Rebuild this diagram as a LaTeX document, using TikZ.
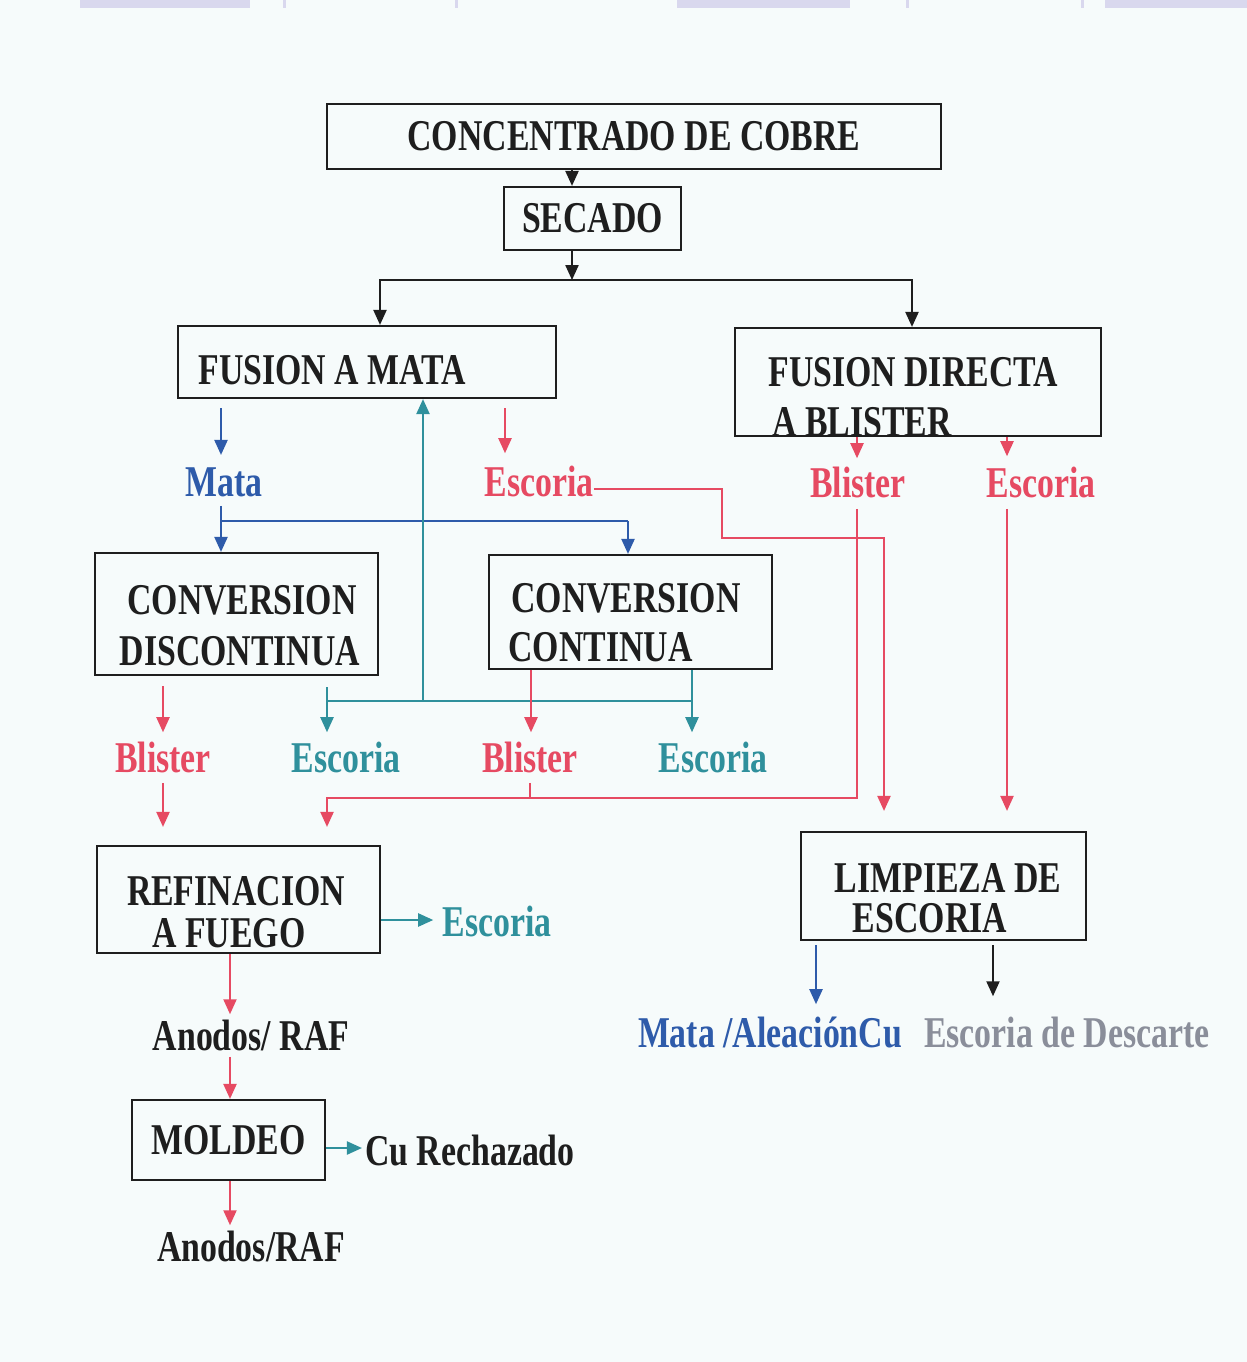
\documentclass[tikz,border=0pt]{standalone}
\usepackage{fontspec}
\setmainfont{Liberation Serif}[FakeStretch=0.77]
\usepackage{xcolor}
\usetikzlibrary{arrows.meta, calc}

\definecolor{txtblack}{HTML}{1E1E1E}
\definecolor{matablue}{HTML}{2E5BAA}
\definecolor{escred}{HTML}{E64A62}
\definecolor{escteal}{HTML}{2F909C}
\definecolor{descgray}{HTML}{8A8E9A}
\definecolor{bgcyan}{HTML}{F6FBFB}
\definecolor{bandlav}{HTML}{D9D8EE}

\begin{document}
\begin{tikzpicture}[x=0.02cm, y=-0.02cm,
    box/.style={draw=txtblack, line width=1.3pt, rectangle, inner sep=0pt,
        font=\bfseries\fontsize{25}{30}\selectfont, text=txtblack},
    lbl/.style={font=\bfseries\fontsize{25}{30}\selectfont, inner sep=0pt, anchor=base, text=txtblack},
    flow/.style={line width=0.9pt, -{Triangle[length=8.5pt,width=7.5pt]}},
    link/.style={line width=0.9pt}]

    % page
    \fill[bgcyan] (0,0) rectangle (1247,1362);
    \useasboundingbox (0,0) rectangle (1247,1362);
    \foreach \a/\b in {80/250, 677/850, 1105/1247}
        \fill[bandlav] (\a,0) rectangle (\b,8);
    \foreach \a in {283, 455, 906, 1081}
        \fill[bandlav] (\a,0) rectangle (\a+3,8);

    % process boxes
    \node[box, minimum width=12.28cm, minimum height=1.30cm] (conc) at (634,136.5) {CONCENTRADO DE COBRE};
    \node[box, minimum width=3.54cm, minimum height=1.26cm] (secado) at (592.5,218.5) {SECADO};

    \node[box, minimum width=7.56cm, minimum height=1.44cm] (fmata) at (367,362) {};
    \node[lbl, anchor=base west] (fmatatxt) at (198,384) {FUSION A MATA};

    \node[box, minimum width=7.32cm, minimum height=2.16cm] (fdir) at (918,382) {};
    \node[lbl, anchor=base west] (fdirA) at (768,386) {FUSION DIRECTA};
    \node[lbl, anchor=base west] (fdirB) at (772,436) {A BLISTER};

    \node[box, minimum width=5.66cm, minimum height=2.44cm] (cdisc) at (236.5,614) {};
    \node[lbl] (cdiscA) at (242,614) {CONVERSION};
    \node[lbl] (cdiscB) at (240,665) {DISCONTINUA};

    \node[box, minimum width=5.66cm, minimum height=2.28cm] (ccont) at (630.5,612) {};
    \node[lbl, anchor=base west] (ccontA) at (511,612) {CONVERSION};
    \node[lbl, anchor=base west] (ccontB) at (508,661) {CONTINUA};

    \node[box, minimum width=5.66cm, minimum height=2.14cm] (refin) at (238.5,899.5) {};
    \node[lbl] (refinA) at (236,905) {REFINACION};
    \node[lbl] (refinB) at (229,947) {A FUEGO};

    \node[box, minimum width=3.86cm, minimum height=1.60cm] (moldeo) at (228.5,1140) {MOLDEO};

    \node[box, minimum width=5.70cm, minimum height=2.16cm] (limp) at (943.5,886) {};
    \node[lbl] (limpA) at (948,892) {LIMPIEZA DE};
    \node[lbl] (limpB) at (930,932) {ESCORIA};

    % products
    \node[lbl, text=matablue] (mata) at (224,496) {Mata};
    \node[lbl, text=escred] (escA) at (539,496) {Escoria};
    \node[lbl, text=escred] (blisA) at (858,497) {Blister};
    \node[lbl, text=escred] (escB) at (1041,497) {Escoria};
    \node[lbl, text=escred] (blisB) at (163,772) {Blister};
    \node[lbl, text=escteal] (escC) at (346,772) {Escoria};
    \node[lbl, text=escred] (blisC) at (530,772) {Blister};
    \node[lbl, text=escteal] (escD) at (713,772) {Escoria};
    \node[lbl, text=escteal] (escE) at (497,936) {Escoria};
    \node[lbl] (anodA) at (251,1050) {Anodos/ RAF};
    \node[lbl] (cuR) at (470,1165) {Cu Rechazado};
    \node[lbl] (anodB) at (251,1261) {Anodos/RAF};
    \node[lbl, text=matablue] (mataCu) at (770,1047) {Mata /AleaciónCu};
    \node[lbl, text=descgray] (desc) at (1067,1047) {Escoria de Descarte};

    % junctions
    \coordinate (split) at (572,280);
    \coordinate (mj) at (221,521);
    \coordinate (cin) at (628,521);
    \coordinate (tj) at (327,701);
    \coordinate (tret) at (423,701);
    \coordinate (tr) at (692,701);
    \coordinate (rj) at (327,798);
    \coordinate (rb) at (530,798);
    \coordinate (rr) at (857,798);
    \coordinate (ea) at (722,489);
    \coordinate (eb) at (884,538);
    \coordinate (xesc) at (505,0);
    \coordinate (xbl) at (857,0);
    \coordinate (xes) at (1007,0);
    \coordinate (xbd) at (163,0);
    \coordinate (xbc) at (531,0);
    \coordinate (xan) at (230,0);
    \coordinate (yr) at (0,920);
    \coordinate (yc) at (0,1148);
    \coordinate (xlm) at (816,0);
    \coordinate (xld) at (993,0);

    % feed
    \draw[flow, txtblack] (conc.south -| split) -- (secado.north -| split);
    \draw[flow, txtblack] (secado.south -| split) -- (split);
    \draw[flow, txtblack] (split) -| ($(fmata.north)+(13,0)$);
    \draw[flow, txtblack] (split) -| ($(fdir.north)+(-6,0)$);

    % fusion a mata
    \draw[flow, matablue] ($(fmata.south -| mj)+(0,9)$) -- ($(mata.north -| mj)+(0,-12)$);
    \draw[flow, matablue] ($(mata.south -| mj)+(0,9)$) -- (cdisc.north -| mj);
    \draw[link, matablue] (mj) -- (cin);
    \draw[flow, matablue] (cin) -- (ccont.north -| cin);
    \draw[flow, escred] ($(fmata.south -| xesc)+(0,9)$) -- ($(escA.north -| xesc)+(0,-12)$);
    \draw[flow, escred] ($(escA.base east)+(0,-7)$) -- (ea) |- (eb) -- ($(limp.north -| eb)+(0,-20)$);

    % fusion directa
    \draw[flow, escred] (fdir.south -| xbl) -- ($(blisA.north -| xbl)+(0,-8)$);
    \draw[flow, escred] ($(blisA.south -| xbl)+(0,11)$) -- (rr) -- (rj) -- ($(refin.north -| rj)+(0,-18)$);
    \draw[flow, escred] (fdir.south -| xes) -- ($(escB.north -| xes)+(0,-10)$);
    \draw[flow, escred] ($(escB.south -| xes)+(0,11)$) -- ($(limp.north -| xes)+(0,-20)$);

    % conversion
    \draw[flow, escred] ($(cdisc.south -| xbd)+(0,10)$) -- ($(blisB.north -| xbd)+(0,-9)$);
    \draw[flow, escred] ($(blisB.south -| xbd)+(0,10)$) -- ($(refin.north -| xbd)+(0,-18)$);
    \draw[flow, escteal] ($(cdisc.south -| tj)+(0,11)$) -- ($(escC.north -| tj)+(0,-9)$);
    \draw[link, escteal] (tj) -- (tr);
    \draw[flow, escteal] (ccont.south -| tr) -- ($(escD.north -| tr)+(0,-9)$);
    \draw[flow, escteal] (tret) -- (fmata.south -| tret);
    \draw[flow, escred] (ccont.south -| xbc) -- ($(blisC.north -| xbc)+(0,-9)$);
    \draw[link, escred] ($(blisC.south)+(0,10)$) -- (rb);

    % refinacion y moldeo
    \draw[flow, escteal] (refin.east |- yr) -- ($(escE.west |- yr)+(-9,0)$);
    \draw[flow, escred] (refin.south -| xan) -- ($(anodA.north -| xan)+(0,-5)$);
    \draw[flow, escred] ($(anodA.south -| xan)+(0,6)$) -- (moldeo.north -| xan);
    \draw[flow, escteal] (moldeo.east |- yc) -- ($(cuR.west |- yc)+(-3,0)$);
    \draw[flow, escred] (moldeo.south -| xan) -- ($(anodB.north -| xan)+(0,-5)$);

    % limpieza
    \draw[flow, matablue] ($(limp.south -| xlm)+(0,4)$) -- ($(mataCu.north -| xlm)+(0,-12)$);
    \draw[flow, txtblack] ($(limp.south -| xld)+(0,4)$) -- ($(desc.north -| xld)+(0,-20)$);

\end{tikzpicture}
\end{document}
